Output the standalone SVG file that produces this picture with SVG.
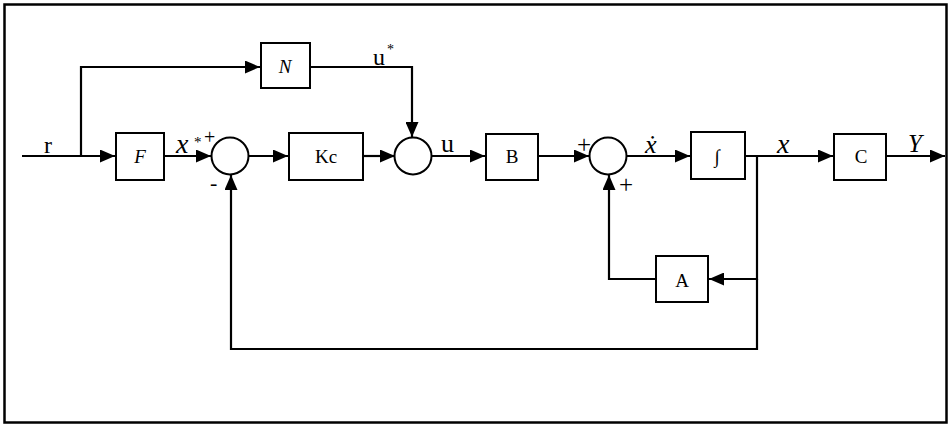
<svg xmlns="http://www.w3.org/2000/svg" width="952" height="426" viewBox="0 0 952 426">
<defs>
<marker id="arr" markerUnits="userSpaceOnUse" markerWidth="15" markerHeight="13" refX="15" refY="6.5" orient="auto">
<path d="M0,0 L15,6.5 L0,13 z" fill="#000"/>
</marker>
<style>
.box{fill:#fff;stroke:#000;stroke-width:2}
.sum{fill:#fff;stroke:#000;stroke-width:2}
.ln{fill:none;stroke:#000;stroke-width:2.2}
.t{font-family:"Liberation Serif","Times New Roman",serif;fill:#000}
.lbl{font-size:19px;text-anchor:middle}
.it{font-style:italic}
</style>
</defs>
<rect x="0" y="0" width="952" height="426" fill="#fff"/>
<rect x="4.5" y="4.5" width="942" height="418" fill="none" stroke="#000" stroke-width="2.5"/>

<g id="connectors">
<path class="ln" d="M22,156 H115" marker-end="url(#arr)"/>
<path class="ln" d="M81,156 V67 H260" marker-end="url(#arr)"/>
<path class="ln" d="M164,156 H211" marker-end="url(#arr)"/>
<path class="ln" d="M248,156 H288" marker-end="url(#arr)"/>
<path class="ln" d="M310,67 H412 V137" marker-end="url(#arr)"/>
<path class="ln" d="M363,156 H395" marker-end="url(#arr)"/>
<path class="ln" d="M431,156 H485" marker-end="url(#arr)"/>
<path class="ln" d="M538,156 H589" marker-end="url(#arr)"/>
<path class="ln" d="M626,156 H690" marker-end="url(#arr)"/>
<path class="ln" d="M745,156 H833" marker-end="url(#arr)"/>
<path class="ln" d="M886,156 H945" marker-end="url(#arr)"/>
<path class="ln" d="M757,156 V279 H709" marker-end="url(#arr)"/>
<path class="ln" d="M656,279 H609 V175" marker-end="url(#arr)"/>
<path class="ln" d="M757,279 V349 H231 V175" marker-end="url(#arr)"/>
</g>

<g id="node-F"><rect class="box" x="116" y="133" width="48" height="47"/><text class="t lbl it" x="140" y="163">F</text></g>
<g id="node-N"><rect class="box" x="261" y="43" width="49" height="45"/><text class="t lbl it" x="285" y="73">N</text></g>
<g id="node-Kc"><rect class="box" x="289" y="133" width="74" height="47"/><text class="t lbl" x="326" y="163">Kc</text></g>
<g id="node-B"><rect class="box" x="486" y="134" width="52" height="46"/><text class="t lbl" x="512" y="163">B</text></g>
<g id="node-int"><rect class="box" x="691" y="132" width="54" height="47"/><text class="t lbl" x="717" y="163">∫</text></g>
<g id="node-C"><rect class="box" x="834" y="134" width="52" height="46"/><text class="t lbl" x="861" y="163">C</text></g>
<g id="node-A"><rect class="box" x="656" y="256" width="52" height="46"/><text class="t lbl" x="682" y="287">A</text></g>

<g id="sum1"><circle class="sum" cx="230" cy="156" r="18.5"/></g>
<g id="sum2"><circle class="sum" cx="413" cy="156" r="18.5"/></g>
<g id="sum3"><circle class="sum" cx="608" cy="156" r="18.5"/></g>

<g id="labels">
<text class="t" x="48" y="153" font-size="24" text-anchor="middle">r</text>
<text class="t it" x="176" y="153" font-size="28">x</text>
<text class="t" x="194" y="147" font-size="15">*</text>
<text class="t" x="204" y="144" font-size="20">+</text>
<text class="t" x="373" y="65" font-size="24">u</text>
<text class="t" x="387" y="54" font-size="14">*</text>
<text class="t" x="441" y="152" font-size="26">u</text>
<text class="t" x="577" y="153" font-size="25">+</text>
<text class="t it" x="645" y="153" font-size="26">ẋ</text>
<text class="t it" x="777" y="153" font-size="28">x</text>
<text class="t it" x="908" y="152" font-size="25">Y</text>
<text class="t" x="619" y="193" font-size="25">+</text>
<text class="t" x="210" y="190" font-size="22">-</text>
</g>
</svg>
